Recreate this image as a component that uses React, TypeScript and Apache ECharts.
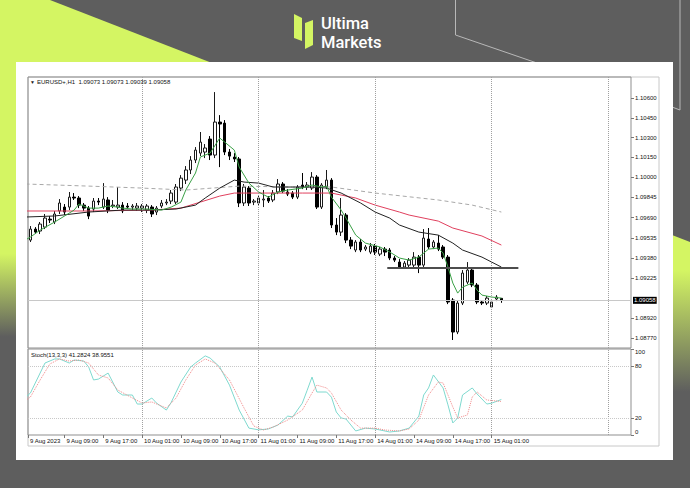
import React, { useEffect, useRef } from "react";
import * as echarts from "echarts";

// ---- data ----
// candles: [open, close, low, high], one per hourly bar starting 9 Aug 01:00
const candles: number[][] = [
  [1.09533, 1.09579, 1.09503, 1.09602],
  [1.09518, 1.09602, 1.09503, 1.09625],
  [1.09602, 1.09579, 1.09564, 1.09617],
  [1.09587, 1.0964, 1.09564, 1.09656],
  [1.09617, 1.09686, 1.09602, 1.09717],
  [1.09678, 1.09671, 1.09648, 1.09701],
  [1.09656, 1.09717, 1.0964, 1.0974],
  [1.0974, 1.09801, 1.09717, 1.09831],
  [1.0977, 1.09732, 1.09709, 1.09793],
  [1.0977, 1.09846, 1.09747, 1.09885],
  [1.09846, 1.09839, 1.09824, 1.09877],
  [1.09839, 1.09785, 1.09762, 1.09854],
  [1.09785, 1.09762, 1.0974, 1.09801],
  [1.09762, 1.09701, 1.09678, 1.09778],
  [1.09755, 1.09816, 1.09732, 1.09839],
  [1.09816, 1.09808, 1.09785, 1.09839],
  [1.0977, 1.09831, 1.09755, 1.09953],
  [1.09824, 1.09747, 1.09724, 1.09846],
  [1.09778, 1.09785, 1.09762, 1.09824],
  [1.0977, 1.09785, 1.09755, 1.09923],
  [1.09785, 1.0974, 1.09724, 1.09808],
  [1.09778, 1.0977, 1.09755, 1.09801],
  [1.0977, 1.09778, 1.09747, 1.09793],
  [1.09762, 1.09778, 1.0974, 1.09801],
  [1.09762, 1.09778, 1.09732, 1.09793],
  [1.09747, 1.09778, 1.09724, 1.09793],
  [1.0977, 1.09717, 1.09694, 1.09785],
  [1.09732, 1.09762, 1.09709, 1.09778],
  [1.09778, 1.09801, 1.09762, 1.09824],
  [1.09801, 1.09808, 1.09785, 1.09831],
  [1.09816, 1.09877, 1.09793, 1.099],
  [1.09808, 1.09923, 1.09793, 1.09946],
  [1.09915, 1.09991, 1.09892, 1.10014],
  [1.09976, 1.10053, 1.09946, 1.10083],
  [1.10053, 1.10129, 1.10022, 1.10159],
  [1.10129, 1.10205, 1.10106, 1.10228],
  [1.10182, 1.10266, 1.10159, 1.10343],
  [1.1019, 1.10221, 1.10144, 1.10251],
  [1.10289, 1.10167, 1.10129, 1.10312],
  [1.10167, 1.10419, 1.10144, 1.10648],
  [1.10419, 1.10404, 1.10075, 1.10472],
  [1.10411, 1.1019, 1.10167, 1.10434],
  [1.1019, 1.10159, 1.10129, 1.10213],
  [1.10152, 1.10137, 1.10114, 1.10182],
  [1.10137, 1.09801, 1.0977, 1.10152],
  [1.09801, 1.09923, 1.09778, 1.09946],
  [1.09915, 1.09801, 1.09778, 1.0993],
  [1.09808, 1.09816, 1.09785, 1.09831],
  [1.09801, 1.09839, 1.09785, 1.09862],
  [1.09824, 1.09831, 1.0977, 1.099],
  [1.09839, 1.09816, 1.09801, 1.09854],
  [1.09824, 1.09877, 1.09808, 1.099],
  [1.09885, 1.09946, 1.09869, 1.09984],
  [1.09946, 1.09892, 1.09877, 1.09961],
  [1.09885, 1.09869, 1.09854, 1.09907],
  [1.09877, 1.09846, 1.09831, 1.09892],
  [1.09846, 1.09923, 1.09831, 1.09938],
  [1.09938, 1.09923, 1.09907, 1.1003],
  [1.09923, 1.09938, 1.099, 1.09961],
  [1.09915, 1.09999, 1.099, 1.10037],
  [1.09999, 1.0977, 1.09755, 1.10014],
  [1.0977, 1.09938, 1.09755, 1.09953],
  [1.09923, 1.09976, 1.09907, 1.10053],
  [1.09976, 1.09633, 1.0961, 1.09991],
  [1.09633, 1.09579, 1.09556, 1.09686],
  [1.09579, 1.09709, 1.09549, 1.09839],
  [1.09709, 1.09518, 1.09495, 1.09724],
  [1.09518, 1.09472, 1.09449, 1.09541],
  [1.09442, 1.09503, 1.09426, 1.09518],
  [1.09503, 1.09442, 1.09426, 1.09526],
  [1.09449, 1.09465, 1.09434, 1.0948],
  [1.09426, 1.09472, 1.09411, 1.09495],
  [1.09472, 1.09426, 1.09404, 1.09488],
  [1.09411, 1.09449, 1.09396, 1.09465],
  [1.09449, 1.09426, 1.09396, 1.09465],
  [1.09442, 1.09381, 1.09365, 1.09457],
  [1.09381, 1.09365, 1.0935, 1.09396],
  [1.0935, 1.09312, 1.09297, 1.09373],
  [1.09312, 1.09342, 1.09297, 1.09358],
  [1.09327, 1.09365, 1.09312, 1.09381],
  [1.09327, 1.09388, 1.09312, 1.09426],
  [1.09388, 1.09327, 1.09266, 1.09404],
  [1.09327, 1.09533, 1.09312, 1.09602],
  [1.09526, 1.09465, 1.09449, 1.0961],
  [1.09465, 1.09503, 1.09449, 1.09518],
  [1.09495, 1.09449, 1.09434, 1.09556],
  [1.09465, 1.09388, 1.09373, 1.0948],
  [1.09388, 1.09045, 1.09029, 1.09404],
  [1.0906, 1.08816, 1.08755, 1.09075],
  [1.08816, 1.09037, 1.088, 1.0906],
  [1.09037, 1.09266, 1.09022, 1.09289],
  [1.09197, 1.09289, 1.09182, 1.0935],
  [1.09289, 1.09175, 1.09159, 1.09304],
  [1.09175, 1.09045, 1.09029, 1.0919],
  [1.09045, 1.09037, 1.09022, 1.0906],
  [1.09037, 1.09075, 1.09022, 1.09091],
  [1.09007, 1.09045, 1.08999, 1.0906],
  [1.09068, 1.09083, 1.09052, 1.09098],
  [1.09073, 1.09058, 1.09039, 1.09073],
];

// moving averages: [bar index, price]
const maFast = [[0, 1.0952], [1, 1.09541], [3, 1.09594], [6, 1.09656], [8, 1.09701], [10, 1.09747], [11, 1.09793], [13, 1.09762], [15, 1.09762], [17, 1.09778], [19, 1.0977], [20, 1.09762], [22, 1.09755], [25, 1.09755], [28, 1.09747], [30, 1.0977], [32, 1.09808], [33, 1.099], [35, 1.1003], [36, 1.10152], [38, 1.10182], [40, 1.10297], [43, 1.10205], [44, 1.10075], [46, 1.09953], [48, 1.09885], [50, 1.09846], [52, 1.09885], [54, 1.099], [57, 1.09915], [59, 1.09938], [61, 1.09923], [62, 1.0993], [63, 1.09846], [65, 1.09747], [66, 1.09686], [68, 1.09556], [70, 1.09495], [73, 1.09465], [75, 1.09427], [77, 1.09381], [79, 1.09365], [81, 1.09388], [83, 1.09449], [85, 1.09457], [86, 1.09419], [87, 1.09312], [88, 1.0919], [89, 1.09113], [90, 1.09159], [92, 1.0919], [93, 1.09136], [94, 1.09098], [96, 1.09083], [98, 1.09075]];
const maMid = [[0, 1.09694], [6, 1.09702], [13, 1.09732], [20, 1.09747], [26, 1.09747], [31, 1.09755], [35, 1.09785], [37, 1.09839], [40, 1.09915], [43, 1.09976], [45, 1.09961], [48, 1.09953], [51, 1.09923], [55, 1.09923], [59, 1.09923], [62, 1.09915], [65, 1.09877], [69, 1.09801], [72, 1.09732], [75, 1.09686], [77, 1.09633], [81, 1.09579], [85, 1.09556], [88, 1.09495], [90, 1.09442], [94, 1.09388], [98, 1.09312]];
const maSlow = [[0, 1.0974], [13, 1.0974], [26, 1.09747], [32, 1.09762], [36, 1.09808], [40, 1.09854], [43, 1.09877], [57, 1.09877], [63, 1.09877], [68, 1.09839], [72, 1.09785], [77, 1.09732], [79, 1.09709], [85, 1.09663], [88, 1.0961], [94, 1.09549], [98, 1.0948]];
const maLong = [[0, 1.09946], [13, 1.0993], [24, 1.09915], [33, 1.099], [44, 1.0993], [55, 1.09923], [63, 1.09923], [72, 1.09877], [85, 1.09824], [92, 1.09785], [98, 1.09732]];

// stochastic (13,3,3): [bar index, value]
const stochMain = [[0, 44], [1, 48.8], [2, 60.5], [4, 83.7], [6, 88.4], [7, 88.4], [9, 83.7], [10, 87.2], [12, 86], [13, 79], [14, 64], [15, 65], [17, 72], [19, 50], [20, 46.5], [22, 46.5], [23, 36], [24, 36], [26, 43], [27, 37], [29, 29], [30, 38], [32, 61.6], [34, 79], [35, 83.7], [37, 92], [38, 89.5], [40, 79], [42, 58], [44, 29], [46, 8], [48, 6], [50, 7], [52, 11.6], [54, 22], [55, 21], [57, 37], [58, 52], [59, 67.4], [60, 50], [62, 50], [63, 44], [64, 26.7], [65, 19.8], [66, 18.6], [68, 4.7], [70, 8], [72, 7], [75, 3.5], [77, 4.7], [79, 8], [81, 22], [82, 46.5], [83, 54.7], [84, 69.8], [86, 54.7], [87, 35], [88, 14], [89, 19.8], [90, 46.5], [92, 54.7], [93, 47.7], [95, 36], [96, 37], [98, 41.2824]];
const stochSignal = [[0, 40], [1, 44.2], [3, 64], [5, 82.6], [7, 88.4], [9, 86], [11, 87.2], [13, 83.7], [15, 69.8], [17, 66.3], [19, 52.3], [22, 43], [24, 37.2], [26, 38.4], [29, 31.4], [31, 43], [33, 64], [35, 81.4], [37, 88.4], [39, 83.7], [42, 64], [45, 31.4], [47, 10.5], [49, 5.8], [51, 9.3], [54, 17.4], [57, 29], [59, 48.8], [60, 58], [62, 54.7], [63, 48.8], [65, 29], [67, 17.4], [69, 8], [72, 8], [74, 5.8], [77, 4.7], [79, 7], [81, 17.4], [83, 46.5], [85, 61.6], [86, 60.5], [88, 32.6], [89, 19.8], [91, 23.3], [92, 44.2], [93, 50], [95, 40.7], [98, 38.9551]];

const priceTicks = [1.106, 1.1045, 1.103, 1.1015, 1.1, 1.09845, 1.0969, 1.09535, 1.0938, 1.09225, 1.0892, 1.0877];
const stochTicks = [0, 20, 80, 100];
const stochLevels = [80, 20];
const timeLabels = ["9 Aug 2023", "9 Aug 09:00", "9 Aug 17:00", "10 Aug 01:00", "10 Aug 09:00", "10 Aug 17:00", "11 Aug 01:00", "11 Aug 09:00", "11 Aug 17:00", "14 Aug 01:00", "14 Aug 09:00", "14 Aug 17:00", "15 Aug 01:00"];
const timeLabelBars = [0.5, 8, 16, 24, 32, 40, 48, 56, 64, 72, 80, 88, 96];
const gridBars = [24, 48, 72, 96, 120];
const lastPrice = 1.09058;
const supportLevel = 1.09307;
const supportFrom = 74.5;
const supportTo = 101.5;
const headerText = "EURUSD+,H1  1.09073 1.09073 1.09039 1.09058";
const stochText = "Stoch(13,3,3) 41.2824 38.9551";
const brandTop = "Ultima";
const brandBottom = "Markets";

export default function App() {
  const ref = useRef<HTMLDivElement>(null);
  useEffect(() => {
    if (!ref.current) return;
    const chart = echarts.init(ref.current, null, { renderer: "svg" });
    const lime = "#d4f563";
    const grey = "#5e5e5e";
    const font = "Liberation Sans";
    const candleData = candles.map((c, i) => [i, c[0], c[1], c[2], c[3]]);
    const xMin = 0.5;
    const xMax = 124.7;

    const graphic: any[] = [
      { type: "rect", z: -20, shape: { x: 0, y: 0, width: 690, height: 488 }, style: { fill: grey } },
      { type: "polygon", z: -19, shape: { points: [[0, 0], [50, 0], [212, 63], [212, 100], [0, 100]] }, style: { fill: lime } },
      {
        type: "rect", z: -19, shape: { x: 0, y: 0, width: 17, height: 488 },
        style: { fill: new echarts.graphic.LinearGradient(0, 0, 0, 1, [
          { offset: 0, color: lime }, { offset: 0.52, color: lime }, { offset: 0.69, color: grey }, { offset: 1, color: grey },
        ]) },
      },
      {
        type: "polygon", z: -19, shape: { points: [[672, 235], [690, 242], [690, 488], [672, 488]] },
        style: { fill: new echarts.graphic.LinearGradient(0, 0, 0, 1, [
          { offset: 0, color: lime }, { offset: 0.14, color: lime }, { offset: 0.62, color: grey }, { offset: 1, color: grey },
        ]) },
      },
      { type: "polyline", z: -18, shape: { points: [[455.5, 0], [455.5, 35], [537, 63]] }, style: { stroke: "#b8b8b8", lineWidth: 1, fill: null } },
      { type: "polyline", z: -18, shape: { points: [[680, 0], [680, 110], [672, 107]] }, style: { stroke: "#b8b8b8", lineWidth: 1, fill: null } },
      { type: "rect", z: -17, shape: { x: 16, y: 62, width: 657, height: 398 }, style: { fill: "#ffffff" } },
      { type: "rect", z: -16, shape: { x: 28, y: 77, width: 631, height: 369 }, style: { fill: null, stroke: "#c8c8c8", lineWidth: 1 } },
      // logo
      { type: "polygon", z: 10, shape: { points: [[294, 14], [302, 18], [302, 41], [294, 38]] }, style: { fill: lime } },
      { type: "polygon", z: 10, shape: { points: [[305, 23], [313, 20], [313, 45], [305, 49]] }, style: { fill: lime } },
      { type: "text", z: 10, x: 321, y: 23, style: { text: brandTop, fill: "#ffffff", fontSize: 16.5, fontWeight: 500, fontFamily: "Roboto", verticalAlign: "middle" } },
      { type: "text", z: 10, x: 321, y: 42.5, style: { text: brandBottom, fill: "#ffffff", fontSize: 16.5, fontWeight: 500, fontFamily: "Roboto", verticalAlign: "middle" } },
      // chart headers
      { type: "text", z: 10, x: 30, y: 82, style: { text: "▼", fill: "#222", fontSize: 5, fontFamily: font, verticalAlign: "middle" } },
      { type: "text", z: 10, x: 37, y: 82, style: { text: headerText, fill: "#111", fontSize: 6, fontFamily: font, verticalAlign: "middle" } },
      { type: "text", z: 10, x: 31, y: 355, style: { text: stochText, fill: "#111", fontSize: 6, fontFamily: font, verticalAlign: "middle" } },
    ];

    const vGrid = gridBars.map((b) => ({ xAxis: b }));

    chart.setOption({
      animation: false,
      graphic,
      grid: [
        { left: 28, right: 59, top: 77, height: 271, show: true, borderColor: "#8f8f8f", borderWidth: 1 },
        { left: 28, right: 59, top: 349, height: 86, show: true, borderColor: "#8f8f8f", borderWidth: 1 },
      ],
      xAxis: [
        { type: "value", gridIndex: 0, min: xMin, max: xMax, axisLine: { show: false }, axisTick: { show: false }, axisLabel: { show: false }, splitLine: { show: false } },
        {
          type: "value", gridIndex: 1, min: xMin, max: xMax,
          axisLine: { show: false },
          axisTick: { show: true, customValues: timeLabelBars, length: 3, lineStyle: { color: "#777" } },
          axisLabel: {
            customValues: timeLabelBars,
            formatter: (v: number) => {
              const k = timeLabelBars.indexOf(v);
              return k >= 0 ? timeLabels[k] : "";
            },
            align: "left", padding: [0, 0, 0, 2], margin: 3, fontSize: 6, color: "#111", fontFamily: font,
          },
          splitLine: { show: false },
        },
      ],
      yAxis: [
        {
          type: "value", gridIndex: 0, position: "right", min: 1.08694, max: 1.10763,
          axisLine: { show: false },
          axisTick: { show: true, customValues: priceTicks, length: 3, lineStyle: { color: "#777" } },
          axisLabel: { customValues: priceTicks, formatter: (v: number) => v.toFixed(5), fontSize: 6, color: "#111", fontFamily: font, margin: 4 },
          splitLine: { show: false },
        },
        {
          type: "value", gridIndex: 1, position: "right", min: 0, max: 100,
          axisLine: { show: false },
          axisTick: { show: true, customValues: stochTicks, length: 3, lineStyle: { color: "#777" } },
          axisLabel: {
            customValues: stochTicks, formatter: (v: number) => String(v), fontSize: 6, color: "#111", fontFamily: font, margin: 4,
            verticalAlignMinLabel: "bottom", verticalAlignMaxLabel: "top",
          },
          splitLine: { show: false },
        },
      ],
      series: [
        {
          type: "candlestick", xAxisIndex: 0, yAxisIndex: 0, data: candleData, barWidth: 3, clip: true,
          encode: { x: 0, y: [1, 2, 3, 4] },
          itemStyle: { color: "#ffffff", color0: "#000000", borderColor: "#1a1a1a", borderColor0: "#000000", borderWidth: 1 },
          markLine: {
            silent: true, symbol: ["none", "none"], label: { show: false },
            data: [
              ...vGrid.map((d) => ({ ...d, lineStyle: { color: "#a0a0a0", type: "dotted", width: 1 } })),
              [
                {
                  coord: [xMin, lastPrice], lineStyle: { color: "#c8c8c8", type: "solid", width: 1 },
                  label: { show: true, position: "end", formatter: lastPrice.toFixed(5), backgroundColor: "#000", color: "#fff", fontSize: 6, fontFamily: font, padding: [1, 1, 0, 1], distance: 2 },
                },
                { coord: [xMax, lastPrice] },
              ],
              [
                { coord: [supportFrom, supportLevel], lineStyle: { color: "#4d4d4d", type: "solid", width: 2 } },
                { coord: [supportTo, supportLevel] },
              ],
            ],
          },
        },
        { type: "line", xAxisIndex: 0, yAxisIndex: 0, data: maLong, showSymbol: false, clip: true, lineStyle: { color: "#a8a8a8", width: 1, type: [4, 3] } },
        { type: "line", xAxisIndex: 0, yAxisIndex: 0, data: maSlow, showSymbol: false, clip: true, lineStyle: { color: "#e0405e", width: 1 } },
        { type: "line", xAxisIndex: 0, yAxisIndex: 0, data: maMid, showSymbol: false, clip: true, lineStyle: { color: "#222222", width: 1 } },
        { type: "line", xAxisIndex: 0, yAxisIndex: 0, data: maFast, showSymbol: false, clip: true, lineStyle: { color: "#3aa046", width: 1 } },
        {
          type: "line", xAxisIndex: 1, yAxisIndex: 1, data: stochMain, showSymbol: false, clip: true,
          lineStyle: { color: "#7fd9cf", width: 1 },
          markLine: {
            silent: true, symbol: ["none", "none"], label: { show: false },
            data: [
              ...vGrid.map((d) => ({ ...d, lineStyle: { color: "#a0a0a0", type: "dotted", width: 1 } })),
              ...stochLevels.map((v) => [
                { coord: [xMin, v], lineStyle: { color: "#c8c8c8", type: "dotted", width: 1 } },
                { coord: [xMax, v] },
              ]),
            ],
          },
        },
        { type: "line", xAxisIndex: 1, yAxisIndex: 1, data: stochSignal, showSymbol: false, clip: true, lineStyle: { color: "#f08a8a", width: 1, type: "dotted" } },
      ],
    });
    return () => chart.dispose();
  }, []);
  return <div ref={ref} style={{ position: "absolute", left: 0, top: 0, width: 690, height: 488 }} />;
}
